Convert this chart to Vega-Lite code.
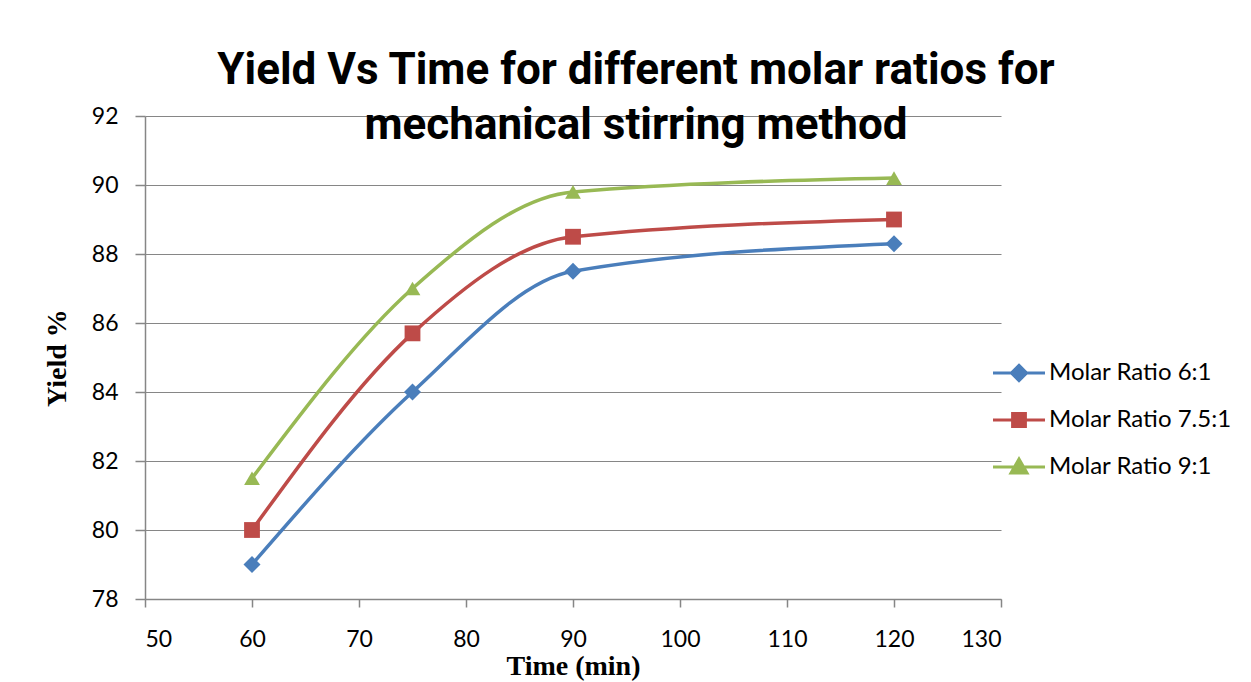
{
  "$schema": "https://vega.github.io/schema/vega-lite/v6.json",
  "width": 856,
  "height": 483,
  "autosize": {"type": "none"},
  "padding": {"left": 145, "top": 116, "right": 250, "bottom": 83},
  "background": "white",
  "title": {
    "text": ["Yield Vs Time for different molar ratios for", "mechanical stirring method"],
    "font": "Roboto",
    "fontWeight": "bold",
    "fontSize": 44,
    "lineHeight": 55,
    "color": "#000000",
    "anchor": "middle",
    "frame": "group",
    "dx": 63,
    "dy": 63,
    "offset": -24,
    "baseline": "bottom"
  },
  "data": {
    "values": [
      {"series": "Molar Ratio 6:1", "time": 60, "yield": 79.0},
      {"series": "Molar Ratio 6:1", "time": 75, "yield": 84.0},
      {"series": "Molar Ratio 6:1", "time": 90, "yield": 87.5},
      {"series": "Molar Ratio 6:1", "time": 120, "yield": 88.3},
      {"series": "Molar Ratio 7.5:1", "time": 60, "yield": 80.0},
      {"series": "Molar Ratio 7.5:1", "time": 75, "yield": 85.7},
      {"series": "Molar Ratio 7.5:1", "time": 90, "yield": 88.5},
      {"series": "Molar Ratio 7.5:1", "time": 120, "yield": 89.0},
      {"series": "Molar Ratio 9:1", "time": 60, "yield": 81.5},
      {"series": "Molar Ratio 9:1", "time": 75, "yield": 87.0},
      {"series": "Molar Ratio 9:1", "time": 90, "yield": 89.8},
      {"series": "Molar Ratio 9:1", "time": 120, "yield": 90.2}
    ]
  },
  "encoding": {
    "x": {
      "field": "time",
      "type": "quantitative",
      "scale": {"domain": [50, 130], "nice": false, "zero": false},
      "axis": {
        "title": "Time (min)",
        "values": [50, 60, 70, 80, 90, 100, 110, 120, 130],
        "grid": false,
        "tickSize": 8,
        "labelPadding": 21,
        "titleFont": "Liberation Serif",
        "titleFontSize": 28,
        "titleFontWeight": "bold",
        "titlePadding": 1
      }
    },
    "y": {
      "field": "yield",
      "type": "quantitative",
      "scale": {"domain": [78, 92], "nice": false, "zero": false},
      "axis": {
        "title": "Yield %",
        "values": [78, 80, 82, 84, 86, 88, 90, 92],
        "grid": true,
        "tickSize": 10,
        "labelPadding": 17,
        "titleFont": "Liberation Serif",
        "titleFontSize": 28,
        "titleFontWeight": "bold",
        "titlePadding": 20
      }
    },
    "color": {
      "field": "series",
      "type": "nominal",
      "scale": {
        "domain": ["Molar Ratio 6:1", "Molar Ratio 7.5:1", "Molar Ratio 9:1"],
        "range": ["#4A7EBB", "#BE4B48", "#98B954"]
      },
      "legend": {
        "title": null,
        "orient": "none",
        "legendX": 862,
        "legendY": 245,
        "symbolSize": 256,
        "symbolType": "M-3.25,0H3.25",
        "symbolStrokeWidth": 3,
        "labelOffset": 18,
        "labelLimit": 400,
        "rowPadding": 20,
        "labelFont": "Lato",
        "labelFontSize": 24,
        "labelColor": "#000000",
        "encode": {
          "symbols": {
            "update": {
              "shape": {"signal": "datum.value === 'Molar Ratio 6:1' ? 'M-3.25,0H3.25M0,-0.95L0.95,0L0,0.95L-0.95,0Z' : datum.value === 'Molar Ratio 7.5:1' ? 'M-3.25,0H3.25M-0.8,-0.8H0.8V0.8H-0.8Z' : 'M-3.25,0H3.25M0,-1L1,0.75H-1Z'"},
              "fill": {"signal": "scale('color', datum.value)"},
              "stroke": {"signal": "scale('color', datum.value)"},
              "strokeWidth": {"value": 3},
              "opacity": {"value": 1}
            }
          }
        }
      }
    }
  },
  "layer": [
    {
      "mark": {"type": "line", "interpolate": "monotone", "strokeWidth": 3.5}
    },
    {
      "transform": [{"filter": "datum.series === 'Molar Ratio 6:1'"}],
      "mark": {"type": "point", "shape": "diamond", "filled": true, "opacity": 1, "size": 290}
    },
    {
      "transform": [{"filter": "datum.series === 'Molar Ratio 7.5:1'"}],
      "mark": {"type": "point", "shape": "square", "filled": true, "opacity": 1, "size": 250}
    },
    {
      "transform": [{"filter": "datum.series === 'Molar Ratio 9:1'"}],
      "mark": {"type": "point", "shape": "triangle-up", "filled": true, "opacity": 1, "size": 250}
    }
  ],
  "config": {
    "view": {"stroke": null},
    "axis": {
      "domainColor": "#868686",
      "domainWidth": 1.5,
      "tickColor": "#868686",
      "tickWidth": 1.5,
      "gridColor": "#868686",
      "gridWidth": 1.2,
      "labelFont": "Lato",
      "labelFontSize": 23,
      "labelColor": "#000000",
      "titleColor": "#000000"
    }
  }
}
